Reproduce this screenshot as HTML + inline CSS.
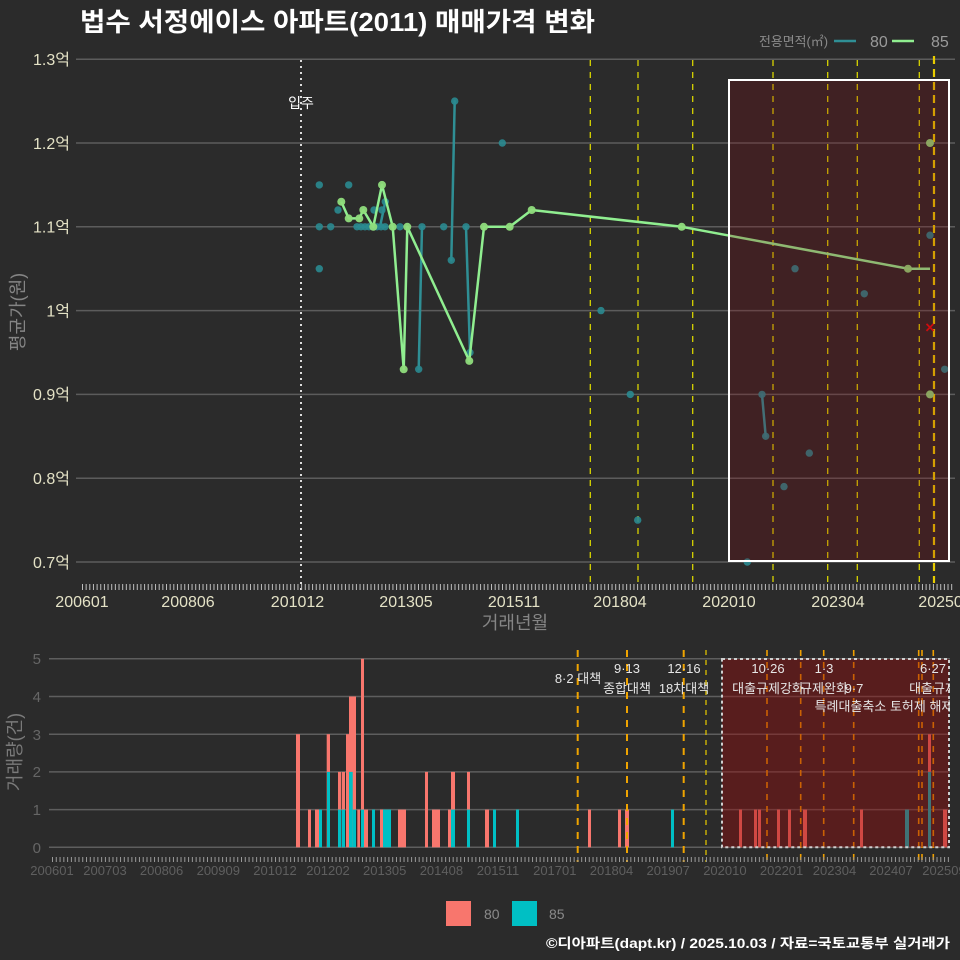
<!DOCTYPE html>
<html>
<head>
<meta charset="utf-8">
<style>
html,body{margin:0;padding:0;background:#2b2b2b;}
svg{display:block}
</style>
</head>
<body>
<svg width="960" height="960" xmlns="http://www.w3.org/2000/svg" font-family="'Liberation Sans','Noto Sans CJK KR',sans-serif">
<defs>
<clipPath id="annclip"><rect x="0" y="640" width="950" height="100"/></clipPath>
</defs>
<rect width="960" height="960" fill="#2b2b2b"/>

<!-- Title -->
<text x="80" y="31" font-size="26" font-weight="bold" fill="#ffffff" textLength="515" lengthAdjust="spacingAndGlyphs">법수 서정에이스 아파트(2011) 매매가격 변화</text>

<!-- Top legend -->
<text x="759" y="46" font-size="13" fill="#8a8a8a" textLength="69" lengthAdjust="spacingAndGlyphs">전용면적(㎡)</text>
<line x1="834" y1="41" x2="856" y2="41" stroke="#2f8f95" stroke-width="2.5"/>
<text x="870" y="47" font-size="16" fill="#9a9a9a">80</text>
<line x1="892" y1="41" x2="914" y2="41" stroke="#90ee90" stroke-width="2.5"/>
<text x="931" y="47" font-size="16" fill="#9a9a9a">85</text>

<!-- ===== TOP CHART ===== -->
<g stroke="#5c5c5c" stroke-width="1.5">
<line x1="76" y1="59.2" x2="955" y2="59.2"/>
<line x1="76" y1="143" x2="955" y2="143"/>
<line x1="76" y1="226.8" x2="955" y2="226.8"/>
<line x1="76" y1="310.6" x2="955" y2="310.6"/>
<line x1="76" y1="394.4" x2="955" y2="394.4"/>
<line x1="76" y1="478.2" x2="955" y2="478.2"/>
<line x1="76" y1="562" x2="955" y2="562"/>
</g>
<g font-size="16" fill="#e4e2c6" text-anchor="end">
<text x="70" y="65">1.3억</text>
<text x="70" y="149">1.2억</text>
<text x="70" y="232.5">1.1억</text>
<text x="70" y="316.5">1억</text>
<text x="70" y="400">0.9억</text>
<text x="70" y="484">0.8억</text>
<text x="70" y="568">0.7억</text>
</g>
<text transform="translate(24,312) rotate(-90)" font-size="18" fill="#858585" text-anchor="middle">평균가(원)</text>

<!-- top dashed policy lines -->
<g stroke="#d8d400" stroke-width="1.3" stroke-dasharray="6 6">
<line x1="590.3" y1="60" x2="590.3" y2="583"/>
<line x1="638" y1="60" x2="638" y2="583"/>
<line x1="692.7" y1="60" x2="692.7" y2="583"/>
<line x1="773" y1="60" x2="773" y2="583"/>
<line x1="827.7" y1="60" x2="827.7" y2="583"/>
<line x1="857.3" y1="60" x2="857.3" y2="583"/>
<line x1="919.3" y1="60" x2="919.3" y2="583"/>
</g>
<line x1="934" y1="56" x2="934" y2="583" stroke="#e8cc00" stroke-width="2.2" stroke-dasharray="8 5"/>

<!-- 입주 line -->
<line x1="301" y1="60" x2="301" y2="590" stroke="#dddddd" stroke-width="2" stroke-dasharray="2 4"/>
<text x="301" y="108" font-size="14" fill="#ffffff" text-anchor="middle">입주</text>

<!-- teal lines (80) -->
<g stroke="#2f8f95" stroke-width="2.5" fill="none" stroke-linecap="round">
<line x1="357" y1="226.8" x2="385" y2="226.8"/>
<line x1="380" y1="226.8" x2="385.3" y2="201.7"/>
<line x1="418.7" y1="369.3" x2="422" y2="226.8"/>
<line x1="451.3" y1="260.3" x2="454.7" y2="101.1"/>
<line x1="466" y1="226.8" x2="470" y2="352.5"/>
<line x1="762" y1="394.4" x2="765.7" y2="436.3"/>
</g>
<!-- teal points -->
<g fill="#2a8a90" fill-opacity="0.9">
<circle cx="319.3" cy="184.9" r="3.7"/><circle cx="348.7" cy="184.9" r="3.7"/>
<circle cx="319.3" cy="226.8" r="3.7"/><circle cx="330.7" cy="226.8" r="3.7"/>
<circle cx="319.3" cy="268.7" r="3.7"/><circle cx="338" cy="210" r="3.7"/>
<circle cx="357" cy="226.8" r="3.7"/><circle cx="361" cy="226.8" r="3.7"/>
<circle cx="365" cy="226.8" r="3.7"/><circle cx="369" cy="226.8" r="3.7"/>
<circle cx="373" cy="226.8" r="3.7"/><circle cx="377" cy="226.8" r="3.7"/>
<circle cx="381" cy="226.8" r="3.7"/><circle cx="385" cy="226.8" r="3.7"/>
<circle cx="374" cy="210" r="3.7"/><circle cx="382" cy="210" r="3.7"/>
<circle cx="385.3" cy="201.7" r="3.7"/><circle cx="400" cy="226.8" r="3.7"/>
<circle cx="418.7" cy="369.3" r="3.7"/><circle cx="422" cy="226.8" r="3.7"/>
<circle cx="443.7" cy="226.8" r="3.7"/><circle cx="451.3" cy="260.3" r="3.7"/>
<circle cx="454.7" cy="101.1" r="3.7"/><circle cx="466" cy="226.8" r="3.7"/>
<circle cx="470" cy="352.5" r="3.7"/><circle cx="502.3" cy="143" r="3.7"/>
<circle cx="601" cy="310.6" r="3.7"/><circle cx="630.3" cy="394.4" r="3.7"/>
<circle cx="637.7" cy="520.1" r="3.7"/><circle cx="747.3" cy="562" r="3.7"/>
<circle cx="762" cy="394.4" r="3.7"/><circle cx="765.7" cy="436.3" r="3.7"/>
<circle cx="784" cy="486.6" r="3.7"/><circle cx="795" cy="268.7" r="3.7"/>
<circle cx="809.3" cy="453.1" r="3.7"/><circle cx="864.3" cy="293.8" r="3.7"/>
<circle cx="930" cy="235.2" r="3.7"/><circle cx="944.7" cy="369.3" r="3.7"/>
</g>
<!-- green line (85) -->
<polyline fill="none" stroke="#90ee90" stroke-width="2.5" stroke-linejoin="round"
points="341.3,201.7 348.7,218.4 359.3,218.4 363.3,210 373.3,226.8 382,184.9 392.7,226.8 403.7,369.3 407.3,226.8 469.3,360.9 484,226.8 509.7,226.8 531.7,210 681.7,226.8 908,268.7 930,268.7"/>
<g fill="#8fdc7c" fill-opacity="0.95">
<circle cx="341.3" cy="201.7" r="4"/><circle cx="348.7" cy="218.4" r="4"/>
<circle cx="359.3" cy="218.4" r="4"/><circle cx="363.3" cy="210" r="4"/>
<circle cx="373.3" cy="226.8" r="4"/><circle cx="382" cy="184.9" r="4"/>
<circle cx="392.7" cy="226.8" r="4"/><circle cx="403.7" cy="369.3" r="4"/>
<circle cx="407.3" cy="226.8" r="4"/><circle cx="469.3" cy="360.9" r="4"/>
<circle cx="484" cy="226.8" r="4"/><circle cx="509.7" cy="226.8" r="4"/>
<circle cx="531.7" cy="210" r="4"/><circle cx="681.7" cy="226.8" r="4"/>
<circle cx="908" cy="268.7" r="4"/>
<circle cx="930" cy="143" r="4"/><circle cx="930" cy="394.4" r="4"/>
</g>
<!-- red x -->
<g stroke="#e01010" stroke-width="1.8">
<line x1="926.5" y1="323.9" x2="933.5" y2="330.9"/>
<line x1="933.5" y1="323.9" x2="926.5" y2="330.9"/>
</g>

<!-- top highlight rect -->
<rect x="729" y="80" width="220" height="481" fill="rgba(139,0,10,0.22)" stroke="#ffffff" stroke-width="2"/>

<!-- top ticks -->
<line x1="82" y1="587" x2="953" y2="587" stroke="#bdbdbd" stroke-width="6" stroke-dasharray="1 2.652"/>
<g font-size="16" fill="#e4e2c6" text-anchor="middle">
<text x="82" y="607">200601</text>
<text x="188" y="607">200806</text>
<text x="297.5" y="607">201012</text>
<text x="406" y="607">201305</text>
<text x="514" y="607">201511</text>
<text x="620" y="607">201804</text>
<text x="729" y="607">202010</text>
<text x="838" y="607">202304</text>
<text x="945" y="607">202509</text>
</g>
<text x="515" y="629" font-size="18" fill="#858585" text-anchor="middle">거래년월</text>

<!-- ===== BOTTOM CHART ===== -->
<g stroke="#5e5e5e" stroke-width="1.5">
<line x1="49" y1="847.3" x2="950" y2="847.3"/>
<line x1="49" y1="809.6" x2="950" y2="809.6"/>
<line x1="49" y1="771.9" x2="950" y2="771.9"/>
<line x1="49" y1="734.2" x2="950" y2="734.2"/>
<line x1="49" y1="696.5" x2="950" y2="696.5"/>
<line x1="49" y1="658.8" x2="950" y2="658.8"/>
</g>
<g font-size="15" fill="#666666" text-anchor="end">
<text x="41" y="853">0</text>
<text x="41" y="815">1</text>
<text x="41" y="777">2</text>
<text x="41" y="740">3</text>
<text x="41" y="702">4</text>
<text x="41" y="664">5</text>
</g>
<text transform="translate(21,752) rotate(-90)" font-size="18" fill="#7a7a7a" text-anchor="middle">거래량(건)</text>

<!-- bars red (80) -->
<g fill="#f8766d">
<rect x="296" y="734.2" width="4" height="113.1"/>
<rect x="308" y="809.6" width="3" height="37.7"/>
<rect x="315" y="809.6" width="4" height="37.7"/>
<rect x="326.7" y="734.2" width="3.3" height="113.1"/>
<rect x="338" y="771.9" width="3" height="75.4"/>
<rect x="341.7" y="771.9" width="3.3" height="75.4"/>
<rect x="346" y="734.2" width="3" height="113.1"/>
<rect x="349" y="696.5" width="7" height="150.8"/>
<rect x="357.3" y="809.6" width="2.7" height="37.7"/>
<rect x="361" y="658.8" width="3" height="188.5"/>
<rect x="364" y="809.6" width="4" height="37.7"/>
<rect x="380" y="809.6" width="3.3" height="37.7"/>
<rect x="398" y="809.6" width="8" height="37.7"/>
<rect x="425" y="771.9" width="3" height="75.4"/>
<rect x="432" y="809.6" width="8" height="37.7"/>
<rect x="448" y="809.6" width="3" height="37.7"/>
<rect x="451" y="771.9" width="4" height="75.4"/>
<rect x="467" y="771.9" width="3" height="75.4"/>
<rect x="485" y="809.6" width="4" height="37.7"/>
<rect x="588" y="809.6" width="3" height="37.7"/>
<rect x="618" y="809.6" width="3" height="37.7"/>
<rect x="625" y="809.6" width="4" height="37.7"/>
<rect x="739" y="809.6" width="3" height="37.7"/>
<rect x="754" y="809.6" width="3" height="37.7"/>
<rect x="758" y="809.6" width="3" height="37.7"/>
<rect x="777" y="809.6" width="3" height="37.7"/>
<rect x="788" y="809.6" width="3" height="37.7"/>
<rect x="803" y="809.6" width="4" height="37.7"/>
<rect x="860" y="809.6" width="3" height="37.7"/>
<rect x="928" y="734.2" width="3" height="113.1"/>
<rect x="943" y="809.6" width="4" height="37.7"/>
</g>
<!-- bars teal (85) -->
<g fill="#00bfc4">
<rect x="319" y="809.6" width="3" height="37.7"/>
<rect x="327" y="771.9" width="3" height="75.4"/>
<rect x="338" y="809.6" width="3" height="37.7"/>
<rect x="341.7" y="809.6" width="3.3" height="37.7"/>
<rect x="349" y="771.9" width="3.7" height="75.4"/>
<rect x="352.7" y="809.6" width="3.3" height="37.7"/>
<rect x="361" y="809.6" width="3" height="37.7"/>
<rect x="372" y="809.6" width="3" height="37.7"/>
<rect x="383" y="809.6" width="8" height="37.7"/>
<rect x="451" y="809.6" width="4" height="37.7"/>
<rect x="467" y="809.6" width="3" height="37.7"/>
<rect x="493" y="809.6" width="3" height="37.7"/>
<rect x="516" y="809.6" width="3" height="37.7"/>
<rect x="671" y="809.6" width="3" height="37.7"/>
<rect x="905" y="809.6" width="4" height="37.7"/>
<rect x="928" y="771.9" width="3" height="75.4"/>
</g>

<!-- bottom dashed lines -->
<g stroke="#f0a400" stroke-width="2" stroke-dasharray="7 7">
<line x1="577.7" y1="650" x2="577.7" y2="862"/>
<line x1="627" y1="650" x2="627" y2="862"/>
<line x1="683.7" y1="650" x2="683.7" y2="862"/>
</g>
<line x1="706" y1="650" x2="706" y2="862" stroke="#dcc000" stroke-width="1.3" stroke-dasharray="5 5"/>
<g stroke="#f0a000" stroke-width="1.6" stroke-dasharray="6 6">
<line x1="767" y1="650" x2="767" y2="862"/>
<line x1="800.7" y1="650" x2="800.7" y2="862"/>
<line x1="823.7" y1="650" x2="823.7" y2="862"/>
<line x1="853.7" y1="650" x2="853.7" y2="862"/>
<line x1="918.7" y1="650" x2="918.7" y2="862"/>
<line x1="922" y1="650" x2="922" y2="862"/>
<line x1="933.3" y1="650" x2="933.3" y2="862"/>
</g>

<!-- bottom highlight rect -->
<rect x="722" y="659" width="227" height="188.3" fill="rgba(150,10,10,0.42)" stroke="#cfcfcf" stroke-width="2" stroke-dasharray="3 3"/>

<!-- annotations -->
<g font-size="13" fill="#e6e6e6" text-anchor="middle" clip-path="url(#annclip)">
<text x="578" y="683">8·2 대책</text>
<text x="627" y="673">9·13</text>
<text x="627" y="693">종합대책</text>
<text x="684" y="673">12·16</text>
<text x="684" y="693">18차대책</text>
<text x="768" y="673">10·26</text>
<text x="768" y="693">대출규제강화</text>
<text x="824" y="673">1·3</text>
<text x="824" y="693">규제완화</text>
<text x="854" y="693">9·7</text>
<text x="884" y="711">특례대출축소 토허제 해제</text>
<text x="933" y="673">6·27</text>
<text x="933" y="693">대출규제</text>
</g>

<!-- bottom ticks -->
<line x1="52" y1="859.5" x2="951" y2="859.5" stroke="#9a9a9a" stroke-width="5" stroke-dasharray="1 2.78"/>
<g font-size="13" fill="#5f5f5f" text-anchor="middle">
<text x="52" y="875">200601</text>
<text x="105" y="875">200703</text>
<text x="161.6" y="875">200806</text>
<text x="218.3" y="875">200909</text>
<text x="275" y="875">201012</text>
<text x="328" y="875">201202</text>
<text x="384.7" y="875">201305</text>
<text x="441.4" y="875">201408</text>
<text x="498" y="875">201511</text>
<text x="554.8" y="875">201701</text>
<text x="611.5" y="875">201804</text>
<text x="668.2" y="875">201907</text>
<text x="724.9" y="875">202010</text>
<text x="781.6" y="875">202201</text>
<text x="834.5" y="875">202304</text>
<text x="891" y="875">202407</text>
<text x="944" y="875">202509</text>
</g>

<!-- bottom legend -->
<rect x="446" y="901" width="25" height="25" fill="#f8766d"/>
<text x="484" y="919" font-size="14" fill="#8a8a8a">80</text>
<rect x="512" y="901" width="25" height="25" fill="#00bfc4"/>
<text x="549" y="919" font-size="14" fill="#8a8a8a">85</text>

<!-- caption -->
<text x="546" y="948" font-size="13.5" font-weight="bold" fill="#ffffff" textLength="404" lengthAdjust="spacingAndGlyphs">©디아파트(dapt.kr) / 2025.10.03 / 자료=국토교통부 실거래가</text>
</svg>
</body>
</html>
